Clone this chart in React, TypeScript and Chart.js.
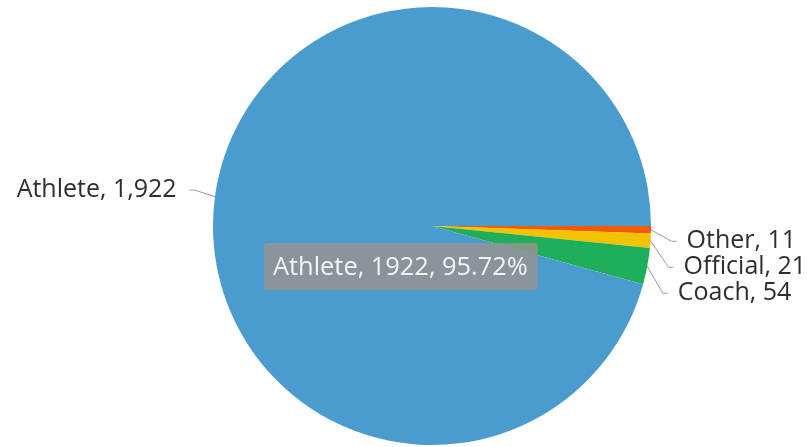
import React, { useEffect, useRef } from "react";
import { Chart, registerables } from "chart.js";

Chart.register(...registerables);

const categories = ["Other", "Official", "Coach", "Athlete"];
const values = [11, 21, 54, 1922];
const colors = ["#f45b00", "#f3c300", "#1faf5a", "#4a9ccf"];
const tooltipCategory = "Athlete";

const FONT = "'Open Sans', sans-serif";

function fmt(n: number) {
  return n.toLocaleString("en-US");
}

const labelsPlugin = {
  id: "outerLabels",
  afterDraw(chart: any) {
    const ctx = chart.ctx;
    const meta = chart.getDatasetMeta(0);
    const dist = 30;
    const items: any[] = [];
    meta.data.forEach((arc: any, i: number) => {
      const mid = (arc.startAngle + arc.endAngle) / 2;
      const r = arc.outerRadius;
      const cx = arc.x;
      const cy = arc.y;
      const right = Math.cos(mid) >= 0;
      items.push({
        i,
        mid,
        r,
        cx,
        cy,
        right,
        ex: cx + r * Math.cos(mid),
        ey: cy + r * Math.sin(mid),
        y: cy + (r + dist) * Math.sin(mid),
      });
    });
    const spacing = 26;
    [true, false].forEach((side) => {
      const group = items.filter((it) => it.right === side).sort((a, b) => a.y - b.y);
      for (let k = 1; k < group.length; k++) {
        if (group[k].y < group[k - 1].y + spacing) group[k].y = group[k - 1].y + spacing;
      }
      group.forEach((it) => {
        it.y += side ? 11 : -2.5;
      });
    });
    ctx.save();
    ctx.font = `25px ${FONT}`;
    ctx.textBaseline = "middle";
    items.forEach((it) => {
      const R = it.r + dist;
      const dy = it.y - it.cy;
      const dx = Math.sqrt(Math.max(0, R * R - dy * dy));
      const sgn = it.right ? 1 : -1;
      const ax = it.cx + sgn * dx;
      const breakX = ax - sgn * 9;
      const endX = ax - sgn * 4;
      ctx.strokeStyle = "#9a9a9a";
      ctx.lineWidth = 1;
      ctx.beginPath();
      ctx.moveTo(it.ex, it.ey);
      ctx.lineTo(breakX, it.y);
      ctx.lineTo(endX, it.y);
      ctx.stroke();
      ctx.fillStyle = "#2e2e2e";
      ctx.textAlign = it.right ? "left" : "right";
      ctx.fillText(`${categories[it.i]}, ${fmt(values[it.i])}`, ax + sgn * (it.right ? 6 : 9), it.y);
    });

    // static tooltip
    const idx = categories.indexOf(tooltipCategory);
    const total = values.reduce((a, b) => a + b, 0);
    const arc = meta.data[idx];
    const text = `${categories[idx]}, ${values[idx]}, ${((values[idx] / total) * 100).toFixed(2)}%`;
    ctx.font = `25.4px ${FONT}`;
    const tw = ctx.measureText(text).width;
    const bx = arc.x - 168;
    const by = arc.y + 17;
    const bw = tw + 19;
    const bh = 47;
    ctx.fillStyle = "rgba(152,146,144,0.82)";
    ctx.beginPath();
    const rr = 3;
    ctx.moveTo(bx + rr, by);
    ctx.lineTo(bx + bw - rr, by);
    ctx.quadraticCurveTo(bx + bw, by, bx + bw, by + rr);
    ctx.lineTo(bx + bw, by + bh - rr);
    ctx.quadraticCurveTo(bx + bw, by + bh, bx + bw - rr, by + bh);
    ctx.lineTo(bx + rr, by + bh);
    ctx.quadraticCurveTo(bx, by + bh, bx, by + bh - rr);
    ctx.lineTo(bx, by + rr);
    ctx.quadraticCurveTo(bx, by, bx + rr, by);
    ctx.fill();
    ctx.fillStyle = "#f4f4f4";
    ctx.textAlign = "left";
    ctx.fillText(text, bx + 9, by + bh / 2 + 1);
    ctx.restore();
  },
};

export default function App() {
  const ref = useRef<HTMLCanvasElement>(null);
  useEffect(() => {
    document.body.style.margin = "0";
    const chart = new Chart(ref.current!, {
      type: "pie",
      data: {
        labels: categories,
        datasets: [
          {
            data: values,
            backgroundColor: colors,
            borderWidth: 0,
          },
        ],
      },
      options: {
        responsive: false,
        animation: false,
        rotation: 90,
        layout: { padding: { left: 213, right: 160, top: 7, bottom: 2 } },
        plugins: {
          legend: { display: false },
          tooltip: { enabled: false },
        },
      },
      plugins: [labelsPlugin],
    });
    return () => chart.destroy();
  }, []);
  return (
    <div style={{ width: 811, height: 447 }}>
      <canvas ref={ref} width={811} height={447} />
    </div>
  );
}
